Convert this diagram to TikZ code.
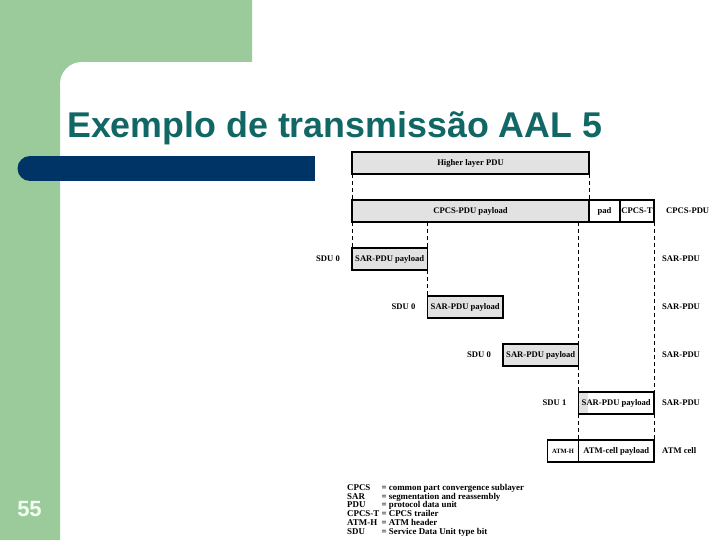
\documentclass[tikz,border=0pt]{standalone}
\usepackage{fontspec}
\setmainfont{Liberation Serif}
\newfontfamily\slidefont{Liberation Sans}
\usetikzlibrary{positioning}
\definecolor{slidegreen}{RGB}{155,203,155}
\definecolor{slideblue}{RGB}{0,51,102}
\definecolor{titleteal}{RGB}{17,102,102}
\definecolor{boxgray}{RGB}{226,226,226}

\begin{document}
\begin{tikzpicture}[x=1pt,y=-1pt,
    pdu/.style={draw,line width=1.1pt,fill=boxgray,inner sep=0pt,outer sep=0pt,minimum height=22pt,
      anchor=north west,font=\bfseries\fontsize{8.6}{9}\selectfont},
    plain/.style={pdu,fill=white,anchor=west},
    lbl/.style={inner sep=0pt,font=\bfseries\fontsize{8.6}{9}\selectfont},
    dashline/.style={line width=0.8pt,dash pattern=on 4pt off 3pt}]
    \useasboundingbox (0,0) rectangle (720,540);
    % slide background
    \fill[slidegreen] (0,0) rectangle (252,62) (0,0) rectangle (60,540);
    \fill[slidegreen] (60,62) rectangle (82,84);
    \fill[white] (82,84) circle (22pt);
    \fill[slideblue] (30,156) rectangle (315,181);
    \fill[slideblue] (30,168.5) circle (12.5pt);
    \node[anchor=base west,inner sep=0pt,text=titleteal,
      font=\slidefont\bfseries\fontsize{35.8}{40}\selectfont] (title) at (67,138)
      {Exemplo de transmissão AAL 5};
    \node[inner sep=0pt,text=white!94!green,font=\slidefont\bfseries\fontsize{22}{24}\selectfont]
      (pagenum) at (29.5,509) {55};
    % CPCS layer
    \node[pdu,minimum width=237pt] (hl) at (352,152) {Higher layer PDU};
    \node[pdu,minimum width=237pt] (cp) at (352,200) {CPCS-PDU payload};
    \node[plain,minimum width=31pt] (pad) at (cp.east) {pad};
    \node[plain,minimum width=34pt] (trl) at (pad.east) {CPCS-T};
    \node[lbl,anchor=west] (cpcsname) at (666,211) {CPCS-PDU};
    % SAR layer
    \foreach \i/\x/\y/\s in {1/352/248/0, 2/427.5/296/0, 3/503/344/0, 4/578.5/392/1}{
      \node[pdu,minimum width=75.5pt] (sar\i) at (\x,\y) {};
      \node[lbl,left=12pt of sar\i] (sdu\i) {SDU \s};
      \node[lbl,anchor=west] (sarname\i) at (662,\y+11) {SAR-PDU};}
    \fill[white] ([xshift=9pt]sar4.north west) rectangle (sar4.south east);
    \draw[line width=1.1pt] (sar4.north west) rectangle (sar4.south east);
    \foreach \i in {1,...,4}{
      \node[lbl] at (sar\i) {SAR-PDU payload};}
    % ATM layer
    \node[pdu,fill=white,minimum width=75.5pt] (cell) at (578.5,440) {ATM-cell payload};
    \node[plain,minimum width=31pt,anchor=east,font=\bfseries\fontsize{6.5}{7}\selectfont]
      (hdr) at (cell.west) {ATM-H};
    \node[lbl,anchor=west] (cellname) at (662,451) {ATM cell};
    % dashed guides
    \draw[dashline] (hl.south west) -- (cp.north west);
    \draw[dashline] (hl.south east) -- (cp.north east);
    \draw[dashline] (cp.south west) -- (sar1.north west);
    \draw[dashline] (sar1.north east |- cp.south) -- (sar1.north east);
    \draw[dashline] (sar1.south east) -- (sar2.north west);
    \draw[dashline] (sar3.north east |- cp.south) -- (sar3.north east);
    \draw[dashline] (sar3.south east) -- (sar4.north west);
    \draw[dashline] (trl.south east) -- (sar4.north east);
    \draw[dashline] (sar4.south west) -- (cell.north west);
    \draw[dashline] (sar4.south east) -- (cell.north east);
    % legend
    \node[anchor=north west,inner sep=0pt,font=\bfseries\fontsize{8.9}{8.7}\selectfont]
      (legend) at (347,484) {%
      \begin{tabular}{@{}l@{\ }l@{\ }l@{}}
        CPCS & = & common part convergence sublayer\\
        SAR & = & segmentation and reassembly\\
        PDU & = & protocol data unit\\
        CPCS-T & = & CPCS trailer\\
        ATM-H & = & ATM header\\
        SDU & = & Service Data Unit type bit
      \end{tabular}};
\end{tikzpicture}
\end{document}
